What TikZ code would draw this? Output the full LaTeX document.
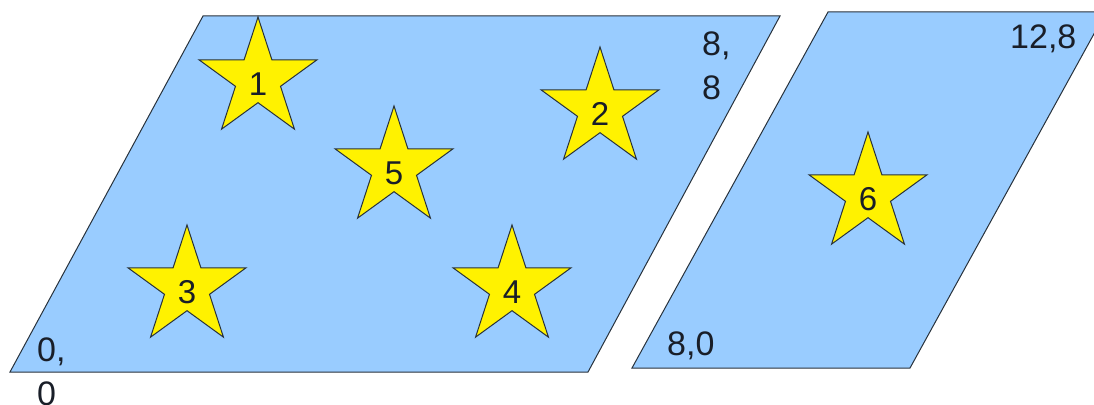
\documentclass[tikz,border=0pt]{standalone}
\usepackage{fontspec}
\setmainfont{Liberation Sans}
\usetikzlibrary{shapes.geometric}
\definecolor{areablue}{RGB}{153,204,255}
\definecolor{edgecol}{RGB}{40,50,60}
\definecolor{txtcol}{RGB}{25,30,40}
\tikzset{
  area/.style={fill=areablue, draw=edgecol, line width=1pt, line join=miter},
  starnode/.style={star, star points=5, star point ratio=2.618, minimum size=124pt, inner sep=0pt,
    fill=yellow, draw=edgecol, line width=1pt, text=txtcol, font=\fontsize{33}{38}\selectfont,
    text height=33pt, text depth=0pt},
  corner/.style={inner sep=0pt, text=txtcol, align=left, font=\fontsize{34}{43.5}\selectfont}
}
\begin{document}
\begin{tikzpicture}[x=1pt, y=-1pt]
\useasboundingbox (0,0) rectangle (1094,404);
\draw[area] (10,372) -- (588,372) -- (780,16) -- (203,16) -- cycle;
\draw[area] (632,368) -- (910,368) -- (1106,12) -- (828,12) -- cycle;
\node[starnode] (s1) at (258,79) {1};
\node[starnode] (s2) at (600,109) {2};
\node[starnode] (s5) at (394,168) {5};
\node[starnode] (s3) at (187,287) {3};
\node[starnode] (s4) at (512,287) {4};
\node[starnode] (s6) at (868,194) {6};
\node[corner, anchor=north west] (c00) at (37,338) {0,\\0};
\node[corner, anchor=north west] (c88) at (702,32) {8,\\8};
\node[corner, anchor=north west] (c80) at (667,332) {8,0};
\node[corner, anchor=north west] (c128) at (1010,25) {12,8};
\end{tikzpicture}
\end{document}
